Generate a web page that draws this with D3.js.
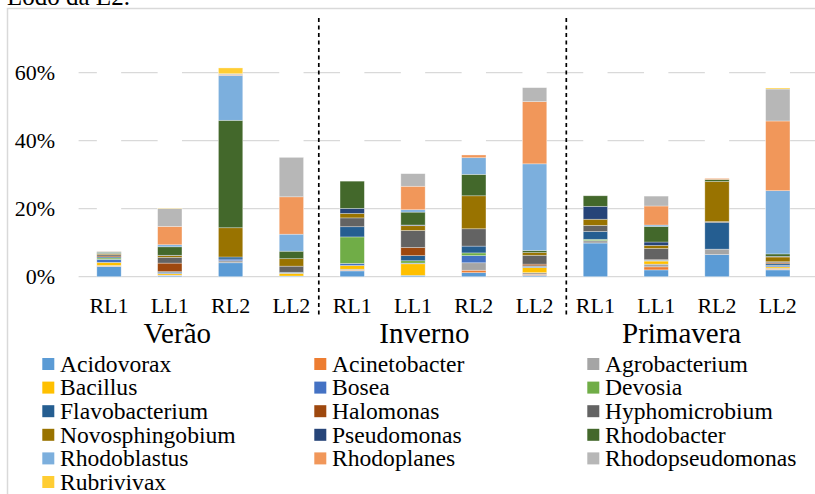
<!DOCTYPE html>
<html>
<head>
<meta charset="utf-8">
<script src="https://cdn.jsdelivr.net/npm/d3@7"></script>
<style>
  html, body { margin: 0; padding: 0; background: #fff; }
  svg { display: block; font-family: "Liberation Serif", "Times New Roman", serif; }
</style>
</head>
<body>
<svg id="chart" width="815" height="494"></svg>
<script>
// Sample labels: site (RL/LL) and campaign number, grouped by season
const seasons = ["Verão", "Inverno", "Primavera"];
const samples = ["RL1", "LL1", "RL2", "LL2"];

const genera = [
  "Acidovorax", "Acinetobacter", "Agrobacterium",
  "Bacillus", "Bosea", "Devosia",
  "Flavobacterium", "Halomonas", "Hyphomicrobium",
  "Novosphingobium", "Pseudomonas", "Rhodobacter",
  "Rhodoblastus", "Rhodoplanes", "Rhodopseudomonas",
  "Rubrivivax"
];

const colors = [
  "#5B9BD5", "#ED7D31", "#A5A5A5",
  "#FFC000", "#4472C4", "#70AD47",
  "#255E91", "#9E480E", "#636363",
  "#997300", "#264478", "#43682B",
  "#7CAFDD", "#F1975A", "#B7B7B7",
  "#FFCD33"
];

// Relative abundance (%) per genus, one value per sample in order:
// Verão RL1, LL1, RL2, LL2 | Inverno RL1, LL1, RL2, LL2 | Primavera RL1, LL1, RL2, LL2
const Acidovorax       = [3.0, 0.3,  4.1, 0.2,  1.7, 0.4, 1.2,  0.4,  9.9, 2.0, 6.5,  2.0];
const Acinetobacter    = [0.1, 0.1,  0.0, 0.0,  0.2, 0.0, 0.7,  0.3,  0.0, 0.9, 0.0,  0.2];
const Agrobacterium    = [0.2, 0.1,  0.6, 0.0,  0.3, 0.0, 2.2,  0.5,  0.7, 0.8, 1.6,  0.3];
const Bacillus         = [0.9, 0.4,  0.0, 0.8,  1.1, 3.4, 0.0,  1.5,  0.0, 0.9, 0.0,  0.4];
const Bosea            = [0.9, 0.2,  0.5, 0.1,  0.6, 0.2, 2.1,  0.2,  0.0, 0.1, 0.0,  0.3];
const Devosia          = [0.4, 0.1,  0.0, 0.0,  7.8, 0.7, 0.8,  0.1,  0.4, 0.1, 0.0,  0.1];
const Flavobacterium   = [0.3, 0.3,  0.6, 0.2,  3.0, 1.5, 2.0,  0.2,  2.3, 0.1, 7.8,  0.5];
const Halomonas        = [0.3, 2.5,  0.0, 0.0,  0.0, 2.4, 0.0,  0.5,  0.0, 0.1, 0.0,  0.3];
const Hyphomicrobium   = [0.4, 1.7,  0.0, 1.8,  2.6, 5.0, 5.1,  2.6,  1.8, 3.3, 0.3,  0.3];
const Novosphingobium  = [0.3, 0.5,  8.6, 2.2,  1.3, 1.4, 9.7,  0.8,  1.8, 0.9, 11.8, 1.4];
const Pseudomonas      = [0.1, 0.1,  0.0, 0.0,  1.5, 0.2, 0.0,  0.0,  3.8, 1.0, 0.0,  0.2];
const Rhodobacter      = [0.3, 2.5, 31.6, 2.2,  8.0, 3.8, 6.3,  0.6,  3.1, 4.6, 0.6,  0.7];
const Rhodoblastus     = [0.1, 0.6, 13.2, 5.0,  0.0, 0.7, 4.9, 25.5,  0.0, 0.4, 0.0, 18.6];
const Rhodoplanes      = [0.1, 5.4,  0.2, 11.0, 0.0, 6.9, 0.8, 18.3,  0.0, 5.6, 0.3, 20.5];
const Rhodopseudomonas = [0.1, 5.3,  0.3, 11.6, 0.0, 3.7, 0.0,  4.1,  0.0, 2.9, 0.0,  9.4];
const Rubrivivax       = [0.0, 0.1,  1.7, 0.0,  0.0, 0.0, 0.0,  0.0,  0.0, 0.0, 0.0,  0.3];

const seriesValues = [
  Acidovorax, Acinetobacter, Agrobacterium, Bacillus, Bosea, Devosia,
  Flavobacterium, Halomonas, Hyphomicrobium, Novosphingobium, Pseudomonas,
  Rhodobacter, Rhodoblastus, Rhodoplanes, Rhodopseudomonas, Rubrivivax
];

const yTicks = [0, 0.2, 0.4, 0.6];

// ---- build table for d3.stack ----
const rows = [];
seasons.forEach((s, si) => samples.forEach((c, ci) => {
  const idx = si * samples.length + ci;
  const row = { key: s + "|" + c, season: s, sample: c };
  genera.forEach((g, gi) => { row[g] = seriesValues[gi][idx] / 100; });
  rows.push(row);
}));

const stacked = d3.stack().keys(genera)(rows);

const svg = d3.select("#chart");

// ---- scales ----
const x = d3.scaleBand()
  .domain(rows.map(r => r.key))
  .range([78.6, 808.2])
  .paddingInner(0.6)
  .paddingOuter(0.3);

const y = d3.scaleLinear().domain([0, 0.6]).range([276.7, 72.7]);
const plotTop = 10;

// heading text above the chart frame
svg.append("text")
  .attr("x", 7).attr("y", 5)
  .attr("font-size", 25)
  .attr("fill", "#000")
  .text("Lodo da E2.");

// chart frame
svg.append("rect")
  .attr("x", 7.5).attr("y", 8.5)
  .attr("width", 830).attr("height", 520)
  .attr("fill", "#fff")
  .attr("stroke", "#d9d9d9")
  .attr("stroke-width", 1.5);

// ---- gridlines ----
svg.append("g").selectAll("line")
  .data(yTicks)
  .join("line")
  .attr("x1", x.range()[0]).attr("x2", 815)
  .attr("y1", d => y(d)).attr("y2", d => y(d))
  .attr("stroke", "#d9d9d9")
  .attr("stroke-width", 1.3);

// white columns above each bar (hidden total series in the source workbook)
svg.append("g").selectAll("rect")
  .data(rows)
  .join("rect")
  .attr("x", d => x(d.key))
  .attr("width", x.bandwidth())
  .attr("y", plotTop)
  .attr("height", y(0) - 1 - plotTop)
  .attr("fill", "#fff");

// ---- stacked bars ----
const layers = svg.append("g").selectAll("g")
  .data(stacked)
  .join("g")
  .attr("fill", (d, i) => colors[i]);

layers.selectAll("rect")
  .data(d => d.filter(p => p[1] - p[0] > 0).map(p => ({ p, key: p.data.key })))
  .join("rect")
  .attr("x", d => x(d.key))
  .attr("width", x.bandwidth())
  .attr("y", d => y(d.p[1]))
  .attr("height", d => y(d.p[0]) - y(d.p[1]))
  .attr("stroke", "#ffffff")
  .attr("stroke-opacity", 0.45)
  .attr("stroke-width", 0.7);

// ---- y axis labels ----
const fmt = d3.format(".0%");
svg.append("g").selectAll("text")
  .data(yTicks)
  .join("text")
  .attr("x", 55)
  .attr("y", d => y(d) + 7.5)
  .attr("text-anchor", "end")
  .attr("font-size", 22)
  .attr("fill", "#000")
  .text(d => fmt(d));

// ---- x axis labels ----
svg.append("g").selectAll("text")
  .data(rows)
  .join("text")
  .attr("x", d => x(d.key) + x.bandwidth() / 2)
  .attr("y", 313)
  .attr("text-anchor", "middle")
  .attr("font-size", 22)
  .attr("fill", "#000")
  .text(d => d.sample);

// season labels
const seasonShift = [-23, -19, -5];
svg.append("g").selectAll("text")
  .data(seasons)
  .join("text")
  .attr("x", (s, i) => {
    const a = x(s + "|" + samples[0]);
    const b = x(s + "|" + samples[samples.length - 1]) + x.bandwidth();
    return (a + b) / 2 + seasonShift[i];
  })
  .attr("y", 343)
  .attr("text-anchor", "middle")
  .attr("font-size", 29)
  .attr("fill", "#000")
  .text(d => d);

// dashed separators between seasons
const sepShift = [-3, 1.3];
[1, 2].forEach((si, k) => {
  const left = x(seasons[si - 1] + "|" + samples[samples.length - 1]) + x.bandwidth();
  const right = x(seasons[si] + "|" + samples[0]);
  const sx = (left + right) / 2 + sepShift[k];
  svg.append("line")
    .attr("x1", sx).attr("x2", sx)
    .attr("y1", 18).attr("y2", 315)
    .attr("stroke", "#000")
    .attr("stroke-width", 1.7)
    .attr("stroke-dasharray", "4,3.5");
});

// ---- legend (3 columns, row-major) ----
const legendCols = [42.3, 314.3, 587.3];
const legendTop = 371.7, legendStep = 23.6;
const legend = svg.append("g").selectAll("g")
  .data(genera)
  .join("g")
  .attr("transform", (d, i) =>
    `translate(${legendCols[i % 3]},${legendTop + Math.floor(i / 3) * legendStep})`);

legend.append("rect")
  .attr("x", 0).attr("y", -13.7)
  .attr("width", 12).attr("height", 12)
  .attr("fill", (d, i) => colors[i]);

legend.append("text")
  .attr("x", 17.7).attr("y", 0)
  .attr("font-size", 23.6)
  .attr("fill", "#000")
  .text(d => d);
</script>
</body>
</html>
